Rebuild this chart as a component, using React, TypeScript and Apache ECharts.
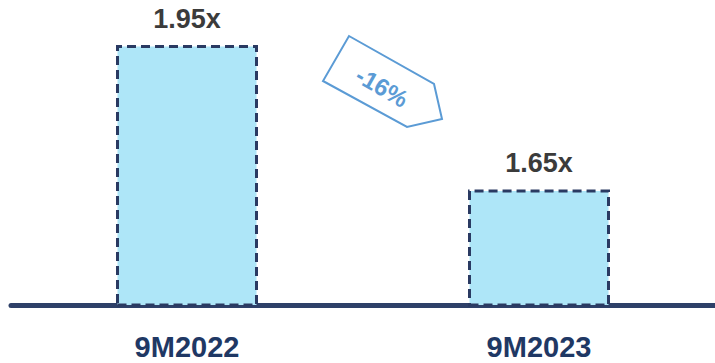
import React, { useEffect, useRef } from "react";
import * as echarts from "echarts";

const categories = ["9M2022", "9M2023"];
const values = [1.95, 1.65];
const valueLabels = ["1.95x", "1.65x"];
const changeLabel = "-16%";

export default function App() {
  const ref = useRef<HTMLDivElement>(null);
  useEffect(() => {
    if (!ref.current) return;
    const chart = echarts.init(ref.current, undefined, { renderer: "svg" });
    chart.setOption({
      animation: false,
      grid: { left: 11, width: 711, top: 45, bottom: 58, containLabel: false },
      xAxis: {
        type: "category",
        data: categories,
        axisLine: { show: true, lineStyle: { color: "#2e4068", width: 5 } },
        axisTick: { show: false },
        axisLabel: {
          margin: 27,
          color: "#1f3864",
          fontSize: 29,
          fontWeight: "bold",
          fontFamily: "Liberation Sans, Arial, sans-serif",
        },
      },
      yAxis: {
        type: "value",
        min: 1.41,
        max: 1.95,
        show: false,
        splitLine: { show: false },
      },
      series: [
        {
          type: "bar",
          barWidth: 142,
          data: values.map((v, i) => ({
            value: v,
            label: { formatter: valueLabels[i] },
          })),
          itemStyle: {
            color: "#aee6f8",
            borderColor: "#2a3a62",
            borderWidth: 3,
            borderType: [9, 5],
          },
          label: {
            show: true,
            position: "top",
            distance: 13,
            color: "#3b3b3b",
            fontSize: 27,
            fontWeight: "bold",
            fontFamily: "Liberation Sans, Arial, sans-serif",
          },
        },
      ],
      graphic: [
        {
          type: "polygon",
          shape: {
            points: [
              [349, 36],
              [434, 84],
              [442, 119],
              [407, 127],
              [323, 81],
            ],
          },
          style: { fill: "none", stroke: "#5b9bd5", lineWidth: 2 },
        },
        {
          type: "text",
          x: 382,
          y: 87,
          rotation: -0.52,
          style: {
            text: changeLabel,
            fill: "#5b9bd5",
            fontSize: 24,
            fontWeight: "bold",
            fontFamily: "Liberation Sans, Arial, sans-serif",
            align: "center",
            verticalAlign: "middle",
          },
        },
      ],
    });
    return () => chart.dispose();
  }, []);
  return (
    <div
      ref={ref}
      style={{ position: "fixed", left: 0, top: 0, width: 715, height: 363, background: "#fff" }}
    />
  );
}
